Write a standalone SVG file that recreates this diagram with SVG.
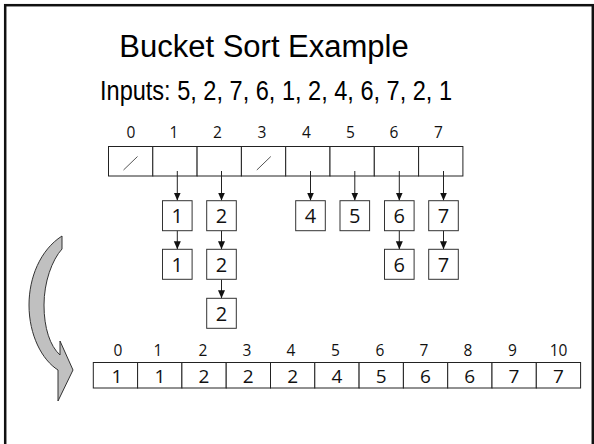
<svg xmlns="http://www.w3.org/2000/svg" width="594" height="444" viewBox="0 0 594 444">
<defs>
<style>
.cell{fill:#fff;stroke:#222;stroke-width:1}
.box{fill:#fff;stroke:#333;stroke-width:1}
.idx{font-family:"Open Sans","DejaVu Sans",sans-serif;font-size:15.5px;fill:#111;text-anchor:middle}
.val{font-family:"Open Sans","DejaVu Sans",sans-serif;font-size:20px;fill:#111;text-anchor:middle}
.bval{font-family:"Open Sans","DejaVu Sans",sans-serif;font-size:19px;fill:#111;text-anchor:middle}
.conn{stroke:#222;stroke-width:1;fill:none;marker-end:url(#ah)}
</style>
<marker id="ah" markerUnits="userSpaceOnUse" markerWidth="8" markerHeight="8" viewBox="0 0 8 8" refX="8" refY="4" orient="auto">
<path d="M0,0.5 L8,4 L0,7.5 Z" fill="#111"/>
</marker>
</defs>
<rect x="5.2" y="5.2" width="587.6" height="460" fill="none" stroke="#111" stroke-width="2.5"/>
<text x="264" y="56.5" font-family="Liberation Sans, Arial, sans-serif" font-size="31" fill="#000" text-anchor="middle">Bucket Sort Example</text>
<text x="100" y="100" font-family="Liberation Sans, Arial, sans-serif" font-size="27" fill="#000" textLength="352" lengthAdjust="spacingAndGlyphs">Inputs: 5, 2, 7, 6, 1, 2, 4, 6, 7, 2, 1</text>
<g id="buckets">
<g class="idx-row">
<text class="idx" x="131" y="138">0</text>
<text class="idx" x="174" y="138">1</text>
<text class="idx" x="217.5" y="138">2</text>
<text class="idx" x="262" y="138">3</text>
<text class="idx" x="306.5" y="138">4</text>
<text class="idx" x="350.5" y="138">5</text>
<text class="idx" x="394" y="138">6</text>
<text class="idx" x="438.5" y="138">7</text>
</g>
<rect class="cell" x="108.5" y="146.5" width="44.3" height="29.5"/>
<rect class="cell" x="152.8" y="146.5" width="44.3" height="29.5"/>
<rect class="cell" x="197.1" y="146.5" width="44.3" height="29.5"/>
<rect class="cell" x="241.4" y="146.5" width="44.3" height="29.5"/>
<rect class="cell" x="285.7" y="146.5" width="44.3" height="29.5"/>
<rect class="cell" x="330" y="146.5" width="44.3" height="29.5"/>
<rect class="cell" x="374.3" y="146.5" width="44.3" height="29.5"/>
<rect class="cell" x="418.6" y="146.5" width="44.3" height="29.5"/>
<line x1="123.5" y1="170" x2="137.5" y2="156.5" stroke="#555" stroke-width="1"/>
<line x1="256.8" y1="170" x2="270.8" y2="156.5" stroke="#555" stroke-width="1"/>
</g>
<g id="connectors">
<line class="conn" x1="177.3" y1="171" x2="177.3" y2="200.5"/>
<line class="conn" x1="177.3" y1="230.5" x2="177.3" y2="249.3"/>
<line class="conn" x1="221.5" y1="171" x2="221.5" y2="200.5"/>
<line class="conn" x1="221.5" y1="230.5" x2="221.5" y2="249.3"/>
<line class="conn" x1="221.5" y1="279.5" x2="221.5" y2="298.3"/>
<line class="conn" x1="310.5" y1="171" x2="310.5" y2="200.5"/>
<line class="conn" x1="354.8" y1="171" x2="354.8" y2="200.5"/>
<line class="conn" x1="399.3" y1="171" x2="399.3" y2="200.5"/>
<line class="conn" x1="399.3" y1="230.5" x2="399.3" y2="249.3"/>
<line class="conn" x1="443.5" y1="171" x2="443.5" y2="200.5"/>
<line class="conn" x1="443.5" y1="230.5" x2="443.5" y2="249.3"/>
</g>
<g id="n1a"><rect class="box" x="162.5" y="200.7" width="29.6" height="30"/><text class="val" x="177.3" y="223.3">1</text></g>
<g id="n1b"><rect class="box" x="162.5" y="249.3" width="29.6" height="30"/><text class="val" x="177.3" y="272">1</text></g>
<g id="n2a"><rect class="box" x="206.7" y="200.7" width="29.6" height="30"/><text class="val" x="221.5" y="223.3">2</text></g>
<g id="n2b"><rect class="box" x="206.7" y="249.3" width="29.6" height="30"/><text class="val" x="221.5" y="272">2</text></g>
<g id="n2c"><rect class="box" x="206.7" y="298.3" width="29.6" height="30"/><text class="val" x="221.5" y="321">2</text></g>
<g id="n4"><rect class="box" x="295.7" y="200.7" width="29.6" height="30"/><text class="val" x="310.5" y="223.3">4</text></g>
<g id="n5"><rect class="box" x="340" y="200.7" width="29.6" height="30"/><text class="val" x="354.8" y="223.3">5</text></g>
<g id="n6a"><rect class="box" x="384.5" y="200.7" width="29.6" height="30"/><text class="val" x="399.3" y="223.3">6</text></g>
<g id="n6b"><rect class="box" x="384.5" y="249.3" width="29.6" height="30"/><text class="val" x="399.3" y="272">6</text></g>
<g id="n7a"><rect class="box" x="428.7" y="200.7" width="29.6" height="30"/><text class="val" x="443.5" y="223.3">7</text></g>
<g id="n7b"><rect class="box" x="428.7" y="249.3" width="29.6" height="30"/><text class="val" x="443.5" y="272">7</text></g>
<g id="curved-arrow">
<path d="M62,236 C40,250 29,278 29,305 C29,335 42,360 58,370 L58,401 L73,370 L60,341 L60,355 C50,346 44,328 44,305 C44,282 52,260 62,249 Z" fill="#c0c0c0" stroke="#333" stroke-width="1"/>
</g>
<g id="output">
<text class="idx" x="118" y="355.5">0</text>
<text class="idx" x="158" y="355.5">1</text>
<text class="idx" x="203" y="355.5">2</text>
<text class="idx" x="247" y="355.5">3</text>
<text class="idx" x="291" y="355.5">4</text>
<text class="idx" x="335.5" y="355.5">5</text>
<text class="idx" x="380" y="355.5">6</text>
<text class="idx" x="424" y="355.5">7</text>
<text class="idx" x="468" y="355.5">8</text>
<text class="idx" x="512.5" y="355.5">9</text>
<text class="idx" x="558.5" y="355.5">10</text>
<rect class="cell" x="93.3" y="362.5" width="44.3" height="25.5"/>
<rect class="cell" x="137.6" y="362.5" width="44.3" height="25.5"/>
<rect class="cell" x="181.9" y="362.5" width="44.3" height="25.5"/>
<rect class="cell" x="226.2" y="362.5" width="44.3" height="25.5"/>
<rect class="cell" x="270.5" y="362.5" width="44.3" height="25.5"/>
<rect class="cell" x="314.8" y="362.5" width="44.3" height="25.5"/>
<rect class="cell" x="359.1" y="362.5" width="44.3" height="25.5"/>
<rect class="cell" x="403.4" y="362.5" width="44.3" height="25.5"/>
<rect class="cell" x="447.7" y="362.5" width="44.3" height="25.5"/>
<rect class="cell" x="492" y="362.5" width="44.3" height="25.5"/>
<rect class="cell" x="536.3" y="362.5" width="44.3" height="25.5"/>
<text class="bval" x="117" y="382.5">1</text>
<text class="bval" x="160" y="382.5">1</text>
<text class="bval" x="204" y="382.5">2</text>
<text class="bval" x="248.3" y="382.5">2</text>
<text class="bval" x="292.6" y="382.5">2</text>
<text class="bval" x="337" y="382.5">4</text>
<text class="bval" x="381.2" y="382.5">5</text>
<text class="bval" x="425.5" y="382.5">6</text>
<text class="bval" x="469.8" y="382.5">6</text>
<text class="bval" x="514" y="382.5">7</text>
<text class="bval" x="558.4" y="382.5">7</text>
</g>
</svg>
